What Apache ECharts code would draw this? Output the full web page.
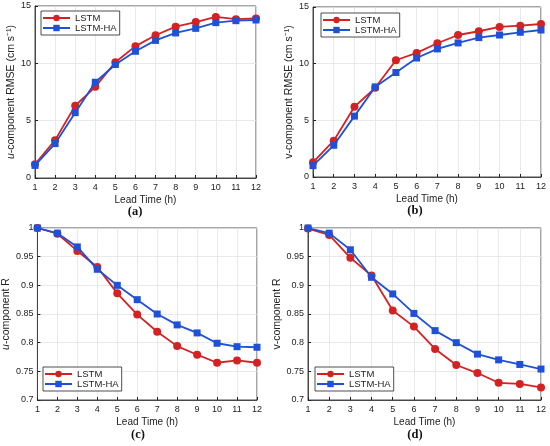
<!DOCTYPE html>
<html>
<head>
<meta charset="utf-8">
<script src="https://cdn.jsdelivr.net/npm/echarts@6/dist/echarts.min.js"></script>
<style>
  html, body { margin: 0; padding: 0; background: #fff; }
  #chart { width: 550px; height: 446px; }
</style>
</head>
<body>
<div id="chart"></div>
<script>
var leadTime = [1, 2, 3, 4, 5, 6, 7, 8, 9, 10, 11, 12];
var seriesNames = ["LSTM", "LSTM-HA"];

// (a) u-component RMSE
var uRmseLstm = [1.2, 3.3, 6.3, 7.95, 10.1, 11.5, 12.45, 13.2, 13.6, 14.05, 13.85, 13.92];
var uRmseHa = [1.1, 3.0, 5.7, 8.35, 9.9, 11.05, 12.0, 12.65, 13.05, 13.55, 13.72, 13.78];
// (b) v-component RMSE
var vRmseLstm = [1.3, 3.2, 6.2, 7.87, 10.3, 10.95, 11.8, 12.53, 12.86, 13.24, 13.35, 13.5];
var vRmseHa = [1.0, 2.8, 5.37, 7.95, 9.22, 10.5, 11.3, 11.83, 12.3, 12.53, 12.77, 12.97];
// (c) u-component R
var uRLstm = [1.0, 0.99, 0.96, 0.932, 0.886, 0.849, 0.819, 0.794, 0.779, 0.765, 0.769, 0.765];
var uRHa = [1.0, 0.991, 0.967, 0.928, 0.9, 0.875, 0.85, 0.831, 0.817, 0.799, 0.793, 0.792];
// (d) v-component R
var vRLstm = [0.999, 0.988, 0.948, 0.917, 0.856, 0.828, 0.789, 0.761, 0.747, 0.73, 0.728, 0.722];
var vRHa = [1.0, 0.991, 0.962, 0.914, 0.885, 0.851, 0.821, 0.8, 0.78, 0.77, 0.762, 0.754];

var panelTags = ["(a)", "(b)", "(c)", "(d)"];

var RED = "#d42222";
var BLUE = "#1f50d8";
var FONT = "Liberation Sans";

function pairs(xs, ys) {
    return xs.map(function (x, i) { return [x, ys[i]]; });
}

// panel boxes: left, top, width, height
var boxes = [
    { left: 35, top: 6, width: 221, height: 172 },
    { left: 313, top: 7, width: 228, height: 170 },
    { left: 37, top: 228, width: 220, height: 172 },
    { left: 308, top: 228, width: 233, height: 172 }
];

var yNames = [
    "{i|u}-component RMSE (cm s\u207B\u00B9)",
    "v-component RMSE (cm s\u207B\u00B9)",
    "{i|u}-component R",
    "v-component R"
];
var nameGaps = [18, 16, 21, 25];
var legendPos = [
    { left: 41, top: 11 },
    { left: 321, top: 13 },
    { left: 43, top: 367 },
    { left: 315, top: 367 }
];
var dataSets = [
    [uRmseLstm, uRmseHa],
    [vRmseLstm, vRmseHa],
    [uRLstm, uRHa],
    [vRLstm, vRHa]
];

var grids = [], xAxes = [], yAxes = [], series = [], legends = [], graphics = [];

boxes.forEach(function (b, k) {
    grids.push({
        left: b.left, top: b.top, width: b.width, height: b.height,
        show: true, borderColor: "#222", borderWidth: 0.8, backgroundColor: "#fff"
    });
    xAxes.push({
        gridIndex: k, type: "value", min: 1, max: 12, interval: 1,
        name: "Lead Time (h)", nameLocation: "middle", nameGap: 17,
        nameTextStyle: { fontFamily: FONT, fontSize: 10, color: "#222" },
        axisLine: { lineStyle: { color: "#222", width: 0.8 } },
        axisTick: { inside: true, length: 3, lineStyle: { color: "#222" } },
        axisLabel: { fontFamily: FONT, fontSize: 9, color: "#222", margin: 5 },
        splitLine: { show: true, lineStyle: { color: "#e3e3e3", width: 0.8 } }
    });
    var isR = k >= 2;
    yAxes.push({
        gridIndex: k, type: "value",
        min: isR ? 0.7 : 0, max: isR ? 1 : 15, interval: isR ? 0.05 : 5,
        name: yNames[k], nameLocation: "middle", nameGap: nameGaps[k],
        nameTextStyle: {
            fontFamily: FONT, fontSize: 10.5, color: "#222",
            rich: { i: { fontFamily: FONT, fontSize: 10.5, fontStyle: "italic", color: "#222" } }
        },
        axisLine: { show: true, lineStyle: { color: "#222", width: 0.8 } },
        axisTick: { show: true, inside: true, length: 3, lineStyle: { color: "#222" } },
        axisLabel: {
            fontFamily: FONT, fontSize: 9, color: "#222", margin: 4,
            formatter: function (v) { return String(+v.toFixed(2)); }
        },
        splitLine: { show: true, lineStyle: { color: "#e3e3e3", width: 0.8 } }
    });
    var ds = dataSets[k];
    series.push({
        name: seriesNames[0], type: "line", xAxisIndex: k, yAxisIndex: k,
        data: pairs(leadTime, ds[0]),
        symbol: "circle", symbolSize: 8,
        lineStyle: { color: RED, width: 1.8 },
        itemStyle: { color: RED },
        z: 3
    });
    series.push({
        name: seriesNames[1], type: "line", xAxisIndex: k, yAxisIndex: k,
        data: pairs(leadTime, ds[1]),
        symbol: "rect", symbolSize: 7,
        lineStyle: { color: BLUE, width: 1.8 },
        itemStyle: { color: BLUE },
        z: 4
    });
    legends.push({
        left: legendPos[k].left, top: legendPos[k].top,
        orient: "vertical", data: seriesNames,
        itemWidth: 27, itemHeight: 8, itemGap: 0,
        padding: [2, 3, 2, 1],
        borderColor: "#222", borderWidth: 0.8, backgroundColor: "#fff",
        textStyle: { fontFamily: FONT, fontSize: 9.5, lineHeight: 10, color: "#222" },
        selectedMode: false
    });
    graphics.push({
        type: "text",
        x: [135, 415, 138, 415][k], y: [212, 211, 435, 435][k],
        style: {
            text: panelTags[k], fontFamily: "Liberation Serif", fontSize: 12.5,
            fontWeight: "bold", fill: "#111", align: "center", verticalAlign: "middle"
        }
    });
});

var chart = echarts.init(document.getElementById("chart"), null, { renderer: "canvas" });
chart.setOption({
    animation: false,
    backgroundColor: "#fff",
    grid: grids,
    xAxis: xAxes,
    yAxis: yAxes,
    legend: legends,
    series: series,
    graphic: graphics
});
</script>
</body>
</html>
